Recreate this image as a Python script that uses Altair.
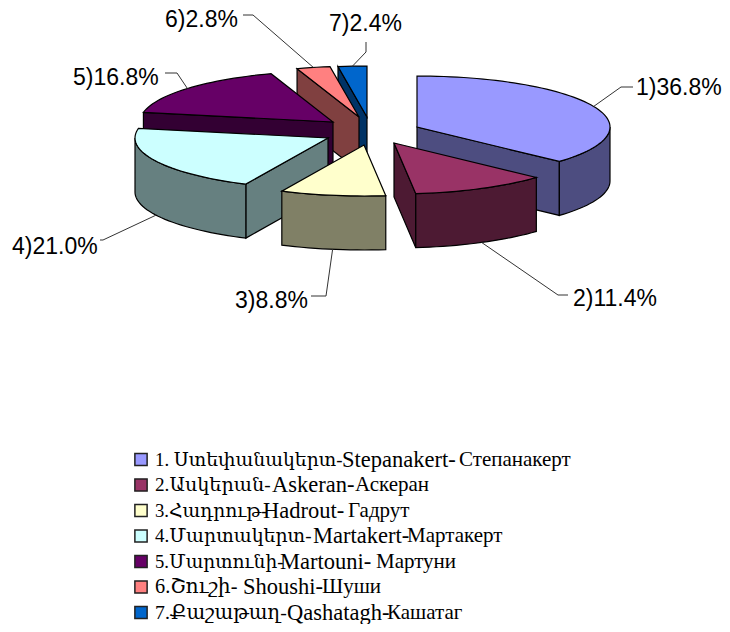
import math
import altair as alt
import pandas as pd

# ---- values
shares = [36.8, 11.4, 8.8, 21.0, 16.8, 2.8, 2.4]
pct_labels = ["1)36.8%", "2)11.4%", "3)8.8%", "4)21.0%", "5)16.8%", "6)2.8%", "7)2.4%"]
legend_hy = ["1. Ստեփանակերտ-", "2.Ասկերան-", "3.Հադրութ-", "4.Մարտակերտ-", "5.Մարտունի-", "6.Շուշի-", "7.Քաշաթաղ-"]
legend_en = ["Stepanakert-", "Askeran-", "Hadrout-", "Martakert-", "Martouni-", "Shoushi-", "Qashatagh-"]
legend_ru = ["Степанакерт", "Аскеран", "Гадрут", "Мартакерт", "Мартуни", "Шуши", "Кашатаг"]
top_colors = ["#9999FF", "#993366", "#FFFFCC", "#CCFFFF", "#660066", "#FF8080", "#0066CC"]
side_colors = ["#4D4D80", "#4D1A33", "#808066", "#668080", "#330033", "#804040", "#003366"]

# ---- layout of the exploded pie
apex_x = [417, 394, 364, 328, 333, 359, 367]
apex_y = [127, 143, 145, 138, 122, 117, 117]
RX, RY, DEPTH = 193, 51, 54
paint_order = [6, 5, 4, 3, 0, 1, 2]

label_x = [636, 573, 235, 12, 73, 165, 329]
label_y = [88, 299, 301, 247, 78, 20, 24]
elbow_x = [621, 558, 326, 103, 177, 253, 366]
elbow_y = [87, 295, 296, 240, 73, 15, 52]
tail_x = [633, 568, 311, 100, 165, 243, 366]
tail_y = [87, 295, 296, 240, 73, 15, 42]

legend_en_x = [342, 272, 263, 313, 280, 243, 287]
legend_ru_x = [459, 355, 348, 407, 376, 322, 387]
legend_hy_size = [18.8, 19.2, 18.7, 18.9, 18.6, 20.3, 19.8]

W, H = 714, 616
xs = alt.Scale(domain=[8, 8 + W], nice=False, zero=False)
ys = alt.Scale(domain=[8 + H, 8], nice=False, zero=False)
X = alt.X("x:Q", scale=xs, axis=None)
Y = alt.Y("y:Q", scale=ys, axis=None)


def rim(i, deg, drop=0):
    a = math.radians(deg)
    return apex_x[i] + RX * math.sin(a), apex_y[i] - RY * math.cos(a) + drop


def arc_degs(a, b):
    n = max(2, int((b - a) / 2))
    return [a + (b - a) * k / n for k in range(n + 1)]


def poly(points, fill):
    df = pd.DataFrame({"x": [p[0] for p in points], "y": [p[1] for p in points],
                       "s": list(range(len(points)))})
    return alt.Chart(df).mark_line(
        interpolate="linear-closed", fill=fill, stroke="black",
        strokeWidth=1.2, strokeJoin="miter",
    ).encode(x=X, y=Y, order="s:Q")


starts, c = [], 0.0
for v in shares:
    starts.append(c)
    c += v * 3.6
starts.append(c)

layers = []
for i in paint_order:
    a, b = starts[i], starts[i + 1]
    ax, ay = apex_x[i], apex_y[i]
    side, top = side_colors[i], top_colors[i]
    # radial cut faces that look towards the viewer
    for deg, visible in ((a, math.sin(math.radians(a)) < -1e-6), (b, math.sin(math.radians(b)) > 1e-6)):
        if visible:
            rx, ry = rim(i, deg)
            layers.append(poly([(ax, ay), (rx, ry), (rx, ry + DEPTH), (ax, ay + DEPTH)], side))
    # outer wall: only the front half of the rim
    lo, hi = max(a, 90), min(b, 270)
    if hi > lo:
        degs = arc_degs(lo, hi)
        pts = [rim(i, d) for d in degs] + [rim(i, d, DEPTH) for d in reversed(degs)]
        layers.append(poly(pts, side))
    # top face
    layers.append(poly([(ax, ay)] + [rim(i, d) for d in arc_degs(a, b)], top))

# leader lines start on the rim at each slice's middle angle
for i in range(len(shares)):
    mid = (starts[i] + starts[i + 1]) / 2
    front = math.cos(math.radians(mid)) < 0
    sx, sy = rim(i, mid, DEPTH if front else 0)
    df = pd.DataFrame({"x": [sx, elbow_x[i], tail_x[i]], "y": [sy, elbow_y[i], tail_y[i]], "s": [0, 1, 2]})
    layers.append(alt.Chart(df).mark_line(color="#333333", strokeWidth=1).encode(x=X, y=Y, order="s:Q"))

labels = pd.DataFrame({"x": label_x, "y": label_y, "t": pct_labels})
layers.append(alt.Chart(labels).mark_text(
    align="left", baseline="middle", font="Liberation Sans", fontSize=23, color="black"
).encode(x=X, y=Y, text="t:N"))

# legend
LEG_Y0, LEG_DY = 459.5, 25.5
leg_y = [LEG_Y0 + k * LEG_DY for k in range(7)]
squares = pd.DataFrame({"x": [141] * 7, "y": leg_y, "c": top_colors})
layers.append(alt.Chart(squares).mark_square(size=150, opacity=1, stroke="#222222", strokeWidth=1.5).encode(
    x=X, y=Y, fill=alt.Fill("c:N", scale=None)))

for texts, starts_x, sizes in (
    (legend_hy, [155] * 7, legend_hy_size),
    (legend_en, legend_en_x, [22.5] * 7),
    (legend_ru, legend_ru_x, [21] * 7),
):
    seg = pd.DataFrame({"x": starts_x, "y": leg_y, "t": texts, "fs": sizes})
    layers.append(alt.Chart(seg).mark_text(
        align="left", baseline="middle", font="Liberation Serif, DejaVu Serif", color="black"
    ).encode(x=X, y=Y, text="t:N", size=alt.Size("fs:Q", scale=None, legend=None)))

chart = alt.layer(*layers).properties(
    width=W, height=H, padding=0, autosize=alt.AutoSizeParams(type="none")
).configure_view(stroke=None)

chart.save("out.html", embed_options={"renderer": "svg", "actions": False})
